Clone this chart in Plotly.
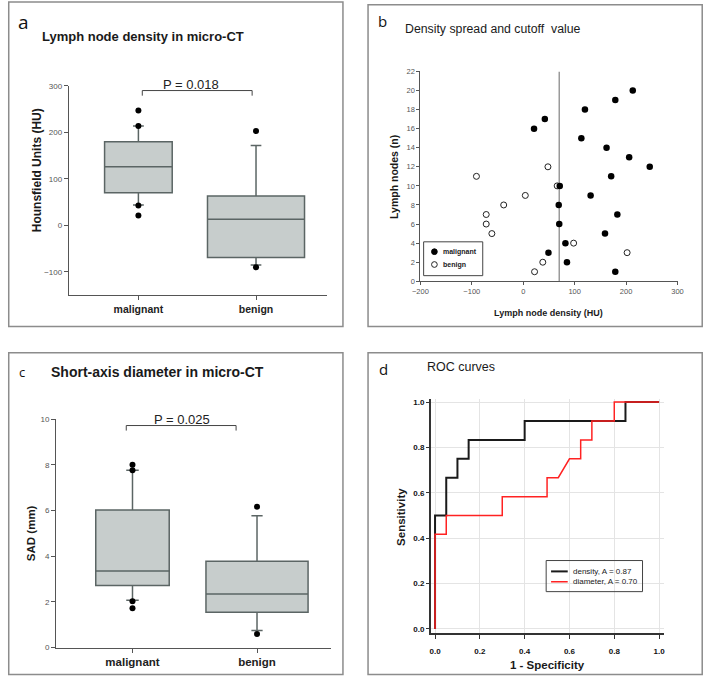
import plotly.graph_objects as go

W, H = 709, 681

# ---------------- data ----------------
categories = ["malignant", "benign"]
cat_pos = [1, 2]

# panel a: density box stats (HU)
dens_q1 = [70, -69]
dens_median = [126, 13]
dens_q3 = [180, 63]
dens_lower = [44, -85]
dens_upper = [214, 172]
dens_out_malignant = [247, 214, 43, 21]
dens_out_benign = [203, -90]
dens_box_width = [0.575, 0.825]
p_text_a = "P = 0.018"

# panel b: density spread
mal_density = [213, 179, 120, 42, 21, 113, 162, 206, 246, 171, 71, 131, 69, 183, 70, 159, 82, 49, 85, 179]
mal_node = [20, 19, 18, 17, 16, 15, 14, 13, 12, 11, 10, 9, 8, 7, 6, 5, 4, 3, 2, 1]
ben_density = [48, -91, 66, 4, -38, -72, -72, -61, 98, 202, 38, 22]
ben_node = [12, 11, 10, 9, 8, 7, 6, 5, 4, 3, 2, 1]
cutoff_hu = 70
node_range = [0, 22]

# panel c: SAD box stats (mm)
sad_q1 = [2.72, 1.55]
sad_median = [3.35, 2.35]
sad_q3 = [6.02, 3.78]
sad_lower = [2.07, 0.75]
sad_upper = [7.76, 5.77]
sad_out_malignant = [8.0, 7.76, 2.03, 1.73]
sad_out_benign = [6.17, 0.6]
sad_box_width = [0.59, 0.82]
p_text_c = "P = 0.025"

# panel d: ROC curves
dens_fpr = [0, 0, 0.05, 0.05, 0.10, 0.10, 0.15, 0.15, 0.40, 0.40, 0.85, 0.85, 1.0]
dens_tpr = [0, 0.5, 0.5, 0.667, 0.667, 0.75, 0.75, 0.833, 0.833, 0.917, 0.917, 1.0, 1.0]
diam_fpr = [0, 0, 0.05, 0.05, 0.30, 0.30, 0.50, 0.50, 0.55, 0.60, 0.65, 0.65, 0.70, 0.70, 0.80, 0.80, 1.0]
diam_tpr = [0, 0.417, 0.417, 0.5, 0.5, 0.583, 0.583, 0.667, 0.667, 0.75, 0.75, 0.833, 0.833, 0.917, 0.917, 1.0, 1.0]
roc_labels = ["density, A = 0.87", "diameter, A = 0.70"]

# ---------------- helpers ----------------
def fx(px):
    return px / W

def fy(py):
    return 1 - py / H

FONT = "Liberation Sans"
BOX_FILL = "#c7cdcc"
BOX_LINE = "#5b6564"
AX = "#555555"

fig = go.Figure()

def add_boxes(xa, ya, q1, med, q3, lo, hi, widths, wwidths, out_m, out_b):
    for i in range(2):
        fig.add_trace(go.Box(
            x=[cat_pos[i]], q1=[q1[i]], median=[med[i]], q3=[q3[i]],
            lowerfence=[lo[i]], upperfence=[hi[i]], width=widths[i],
            whiskerwidth=wwidths[i], fillcolor=BOX_FILL,
            line=dict(color=BOX_LINE, width=1.5), boxpoints=False,
            xaxis=xa, yaxis=ya, showlegend=False, hoverinfo="skip"))
    for pos, vals in zip(cat_pos, [out_m, out_b]):
        fig.add_trace(go.Scatter(
            x=[pos] * len(vals), y=vals, mode="markers",
            marker=dict(color="black", size=6), xaxis=xa, yaxis=ya,
            showlegend=False, hoverinfo="skip"))

# panel a
add_boxes("x", "y", dens_q1, dens_median, dens_q3, dens_lower, dens_upper,
          dens_box_width, [0.16, 0.11], dens_out_malignant, dens_out_benign)
fig.add_trace(go.Scatter(x=[1.033, 1.033, 1.967, 1.967], y=[279, 290, 290, 279],
                         mode="lines", line=dict(color="#444", width=1),
                         xaxis="x", yaxis="y", showlegend=False, hoverinfo="skip"))

# panel b
fig.add_trace(go.Scatter(x=[cutoff_hu, cutoff_hu], y=node_range, mode="lines",
                         line=dict(color="#9a9a9a", width=1.5), xaxis="x2", yaxis="y2",
                         showlegend=False, hoverinfo="skip"))
fig.add_trace(go.Scatter(x=ben_density, y=ben_node, mode="markers",
                         marker=dict(color="white", size=6, line=dict(color="#222", width=1)),
                         xaxis="x2", yaxis="y2", showlegend=False, hoverinfo="skip"))
fig.add_trace(go.Scatter(x=mal_density, y=mal_node, mode="markers",
                         marker=dict(color="black", size=6.5),
                         xaxis="x2", yaxis="y2", showlegend=False, hoverinfo="skip"))

# panel c
add_boxes("x3", "y3", sad_q1, sad_median, sad_q3, sad_lower, sad_upper,
          sad_box_width, [0.17, 0.11], sad_out_malignant, sad_out_benign)
fig.add_trace(go.Scatter(x=[0.95, 0.95, 1.832, 1.832], y=[9.5, 9.72, 9.72, 9.5],
                         mode="lines", line=dict(color="#444", width=1),
                         xaxis="x3", yaxis="y3", showlegend=False, hoverinfo="skip"))

# panel d
fig.add_trace(go.Scatter(x=dens_fpr, y=dens_tpr, mode="lines",
                         line=dict(color="#1a1a1a", width=2), xaxis="x4", yaxis="y4",
                         showlegend=False, hoverinfo="skip"))
fig.add_trace(go.Scatter(x=diam_fpr, y=diam_tpr, mode="lines",
                         line=dict(color="#ff2222", width=1.5), xaxis="x4", yaxis="y4",
                         showlegend=False, hoverinfo="skip"))

# ---------------- axes ----------------
tick_small = dict(family=FONT, size=8, color=AX)
cat_font = dict(family=FONT, size=10.5, color="#222", weight="bold")

fig.update_layout(
    xaxis=dict(domain=[fx(62), fx(325)], range=[0.408, 2.6], tickvals=cat_pos, ticktext=categories,
               ticks="outside", ticklen=4, tickcolor=AX, showline=True, linecolor=AX, linewidth=1,
               showgrid=False, zeroline=False, tickfont=cat_font, anchor="y", fixedrange=True),
    yaxis=dict(domain=[fy(295), fy(83)], range=[-150, 300], tickvals=[-100, 0, 100, 200, 300],
               ticks="outside", ticklen=4, tickcolor=AX, showline=True, linecolor=AX, linewidth=1,
               showgrid=False, zeroline=False, tickfont=tick_small, anchor="x"),
    xaxis2=dict(domain=[fx(420.7), fx(683)], range=[-200, 300], dtick=100, tick0=0,
                ticks="outside", ticklen=3, tickcolor=AX, showline=True, linecolor=AX, linewidth=1,
                showgrid=False, zeroline=False, tickfont=dict(family=FONT, size=7.5, color=AX), anchor="y2"),
    yaxis2=dict(domain=[fy(281), fy(68.3)], range=node_range, dtick=2, tick0=0,
                ticks="outside", ticklen=3, tickcolor=AX, showline=True, linecolor=AX, linewidth=1,
                showgrid=False, zeroline=False, tickfont=dict(family=FONT, size=7.5, color=AX), anchor="x2"),
    xaxis3=dict(domain=[fx(49), fx(330)], range=[0.386, 2.598], tickvals=cat_pos, ticktext=categories,
                ticks="outside", ticklen=4, tickcolor=AX, showline=True, linecolor=AX, linewidth=1,
                showgrid=False, zeroline=False, tickfont=dict(family=FONT, size=11.5, color="#222", weight="bold"),
                anchor="y3"),
    yaxis3=dict(domain=[fy(652.3), fy(420.7)], range=[0, 10], dtick=2, tick0=0,
                ticks="outside", ticklen=4, tickcolor=AX, showline=True, linecolor=AX, linewidth=1,
                showgrid=False, zeroline=False, tickfont=tick_small, anchor="x3"),
    xaxis4=dict(domain=[fx(431.3), fx(669)], range=[-0.019, 1.021], dtick=0.2, tick0=0, tickformat=".1f",
                ticks="outside", ticklen=4, tickcolor="#333", showline=True, linecolor="#333", linewidth=1.5,
                showgrid=True, gridcolor="#e4e4e4", gridwidth=1, zeroline=False, ticklabelstandoff=5,
                tickfont=dict(family=FONT, size=8, color="#111", weight="bold"), anchor="y4"),
    yaxis4=dict(domain=[fy(637.7), fy(400)], range=[-0.019, 1.015], dtick=0.2, tick0=0, tickformat=".1f",
                ticks="outside", ticklen=3, tickcolor="#333", showline=True, linecolor="#333", linewidth=1.5,
                showgrid=True, gridcolor="#e4e4e4", gridwidth=1, zeroline=False,
                tickfont=dict(family=FONT, size=8, color="#111", weight="bold"), anchor="x4"),
)

# ---------------- annotations ----------------
ann = []

def text(px, py, s, size, bold=False, color="#1a1a1a", xanchor="left", angle=0, family=FONT):
    f = dict(family=family, size=size, color=color)
    if bold:
        f["weight"] = "bold"
    ann.append(dict(x=fx(px), y=fy(py), xref="paper", yref="paper", text=s, showarrow=False,
                    xanchor=xanchor, yanchor="middle", font=f, textangle=angle))

LBL = "Open Sans"
# panel labels
text(8, 18, "a", 19, family=LBL, color="#111")
text(375, 17, "b", 15, family=LBL, color="#111")
text(9, 373, "c", 13, family=LBL, color="#111")
text(376, 370, "d", 15, family=LBL, color="#111")
# titles
text(33, 33, "Lymph node density in micro-CT", 13, bold=True)
text(403, 25, "Density spread and cutoff&nbsp;&nbsp;value", 12.3)
text(42, 373, "Short-axis diameter in micro-CT", 14, bold=True)
text(425.7, 368, "ROC curves", 12.5)
# axis titles
text(29, 168, "Hounsfield Units (HU)", 12, bold=True, xanchor="center", angle=-90)
text(393, 175, "Lymph nodes (n)", 10.5, bold=True, xanchor="center", angle=-90)
text(551.8, 312.7, "Lymph node density (HU)", 9, bold=True, xanchor="center")
text(23, 536.7, "SAD (mm)", 11.5, bold=True, xanchor="center", angle=-90)
text(400.7, 520, "Sensitivity", 11.5, bold=True, xanchor="center", angle=-90)
text(550, 670, "1 - Specificity", 11.5, bold=True, xanchor="center")
# p-values
text(187, 82, p_text_a, 13, xanchor="center", color="#222")
text(178, 421, p_text_c, 13, xanchor="center", color="#222")
# legend b
text(441.3, 251, "malignant", 7, bold=True)
text(441.3, 264, "benign", 7, bold=True)
# legend d
text(574.7, 575, roc_labels[0], 8, color="#222")
text(574.7, 585.5, roc_labels[1], 8, color="#222")

# ---------------- shapes ----------------
shapes = []

def rect(x0, y0, x1, y1, color, width):
    shapes.append(dict(type="rect", xref="paper", yref="paper", x0=fx(x0), x1=fx(x1),
                       y0=fy(y1), y1=fy(y0), line=dict(color=color, width=width)))

PB = "#8c8c8c"
rect(0.75, -2, 341.7, 326.7, PB, 1.5)
rect(367.3, 0.75, 708.2, 326.7, PB, 1.5)
rect(0.75, 353.3, 341.7, 679.5, PB, 1.5)
rect(367.3, 353.3, 708.2, 679.5, PB, 1.5)
# legend boxes
rect(424, 241, 484.3, 275.3, "#444", 1)
rect(549, 564, 647.3, 595.5, "#444", 1)
# legend glyphs b
r = 2.9
shapes.append(dict(type="circle", xref="paper", yref="paper", x0=fx(435 - r), x1=fx(435 + r),
                   y0=fy(251 + r), y1=fy(251 - r), fillcolor="black", line=dict(color="black", width=1)))
shapes.append(dict(type="circle", xref="paper", yref="paper", x0=fx(435 - r), x1=fx(435 + r),
                   y0=fy(264 + r), y1=fy(264 - r), fillcolor="white", line=dict(color="#222", width=1)))
# legend lines d
shapes.append(dict(type="line", xref="paper", yref="paper", x0=fx(554), x1=fx(571), y0=fy(575), y1=fy(575),
                   line=dict(color="#1a1a1a", width=2)))
shapes.append(dict(type="line", xref="paper", yref="paper", x0=fx(554), x1=fx(571), y0=fy(585.5), y1=fy(585.5),
                   line=dict(color="#ff2222", width=1.5)))

fig.update_layout(
    width=W, height=H, margin=dict(l=0, r=0, t=0, b=0),
    paper_bgcolor="white", plot_bgcolor="white",
    annotations=ann, shapes=shapes, showlegend=False, boxmode="overlay",
    font=dict(family=FONT),
)

fig.write_html("out.html", config={"displayModeBar": False},
               post_script="document.body.style.margin='0';document.body.style.overflow='hidden';")
